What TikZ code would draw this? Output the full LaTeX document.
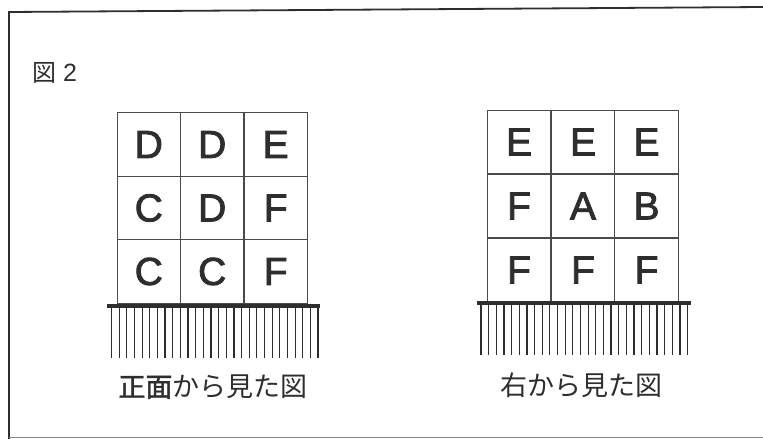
\documentclass[tikz,border=0pt]{standalone}
\usepackage{fontspec}
\setmainfont{Liberation Sans}
\newfontfamily\letterfont[FakeBold=2.2]{Liberation Sans}
\newfontfamily\jpfont{Noto Sans CJK JP}
\newfontfamily\jpbold[FakeBold=1.5]{Noto Sans CJK JP}
\definecolor{ink}{HTML}{2E2E2E}
\definecolor{gridc}{HTML}{4A4A4A}
\begin{document}
\begin{tikzpicture}[x=1pt,y=-1pt,
  cell/.style={draw=gridc,line width=1.1pt,minimum width=63.5pt,minimum height=63.5pt,inner sep=0pt,
    font=\letterfont\fontsize{39}{39}\selectfont,text=ink,anchor=center},
  ground/.style={draw=ink,line width=3.2pt},
  hatchline/.style={draw=ink,line width=1.2pt},
  caption/.style={font=\jpfont\fontsize{27}{27}\selectfont,text=ink,inner sep=0pt},
  frame/.style={draw=ink,line width=1.8pt}]
\useasboundingbox (0,0) rectangle (763,439);
% frame
\draw[frame] (9,439) -- (9,12) -- (763,7);
\draw[draw=ink!60,line width=1.2pt] (9,437.5) -- (763,437.5);
% title
\node[inner sep=0pt,text=ink,anchor=west] (title) at (32,73) {{\jpfont\fontsize{24}{24}\selectfont 図}\hspace{7pt}{\fontsize{25}{25}\selectfont 2}};
% left grid (front view)
\foreach \r/\y in {1/144.5,2/208,3/271.5}{
  \foreach \c/\x in {1/148.8,2/212.2,3/275.7}{
    \coordinate (Lc\r\c) at (\x,\y);
  }}
\node[cell] (L11) at (Lc11) {D};
\node[cell] (L12) at (Lc12) {D};
\node[cell] (L13) at (Lc13) {E};
\node[cell] (L21) at (Lc21) {C};
\node[cell] (L22) at (Lc22) {D};
\node[cell] (L23) at (Lc23) {F};
\node[cell] (L31) at (Lc31) {C};
\node[cell] (L32) at (Lc32) {C};
\node[cell] (L33) at (Lc33) {F};
\coordinate (LgA) at (107,306);
\coordinate (LgB) at (320,306);
\draw[ground] (LgA) -- (LgB);
\foreach \i in {0,...,27}{
  \draw[hatchline] (111.5+7.65*\i,307) -- (111.5+7.65*\i,358);
}
\node[caption] (Lcap) at (213,387) {{\jpbold 正面}から見た図};
% right grid (right view)
\foreach \r/\y in {1/142,2/206,3/270}{
  \foreach \c/\x in {1/519,2/583,3/646.5}{
    \coordinate (Rc\r\c) at (\x,\y);
  }}
\node[cell] (R11) at (Rc11) {E};
\node[cell] (R12) at (Rc12) {E};
\node[cell] (R13) at (Rc13) {E};
\node[cell] (R21) at (Rc21) {F};
\node[cell] (R22) at (Rc22) {A};
\node[cell] (R23) at (Rc23) {B};
\node[cell] (R31) at (Rc31) {F};
\node[cell] (R32) at (Rc32) {F};
\node[cell] (R33) at (Rc33) {F};
\coordinate (RgA) at (477,303);
\coordinate (RgB) at (691,303);
\draw[ground] (RgA) -- (RgB);
\foreach \i in {0,...,27}{
  \draw[hatchline] (481+7.65*\i,304) -- (481+7.65*\i,355);
}
\node[caption] (Rcap) at (581,385) {右から見た図};
\end{tikzpicture}
\end{document}
